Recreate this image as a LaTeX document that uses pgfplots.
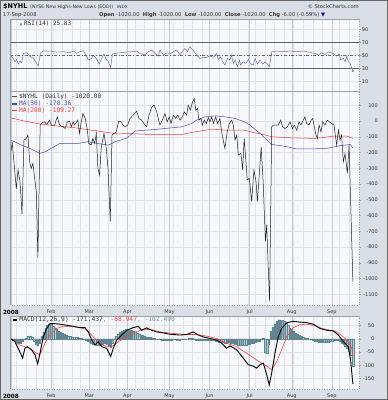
\documentclass[border=0pt]{standalone}
\usepackage{pgfplots}
\pgfplotsset{compat=1.18}
\usepackage{fontspec}
\setmainfont{DejaVu Sans}
\newfontfamily\mono{DejaVu Sans Mono}
\definecolor{framebg}{HTML}{DADFE7}
\definecolor{panelbg}{HTML}{F7F8FB}
\definecolor{gridw}{HTML}{E0E3E9}
\definecolor{gridm}{HTML}{C6CBD3}
\definecolor{bordercol}{HTML}{9A9FA8}
\definecolor{lbl}{HTML}{333333}
\definecolor{rsiline}{HTML}{5B669C}
\definecolor{ma50}{HTML}{4A4AAE}
\definecolor{ma200}{HTML}{F03C3C}
\definecolor{sig}{HTML}{F04545}
\definecolor{histfill}{HTML}{94B3BE}
\definecolor{histdraw}{HTML}{628592}
\definecolor{tealtxt}{HTML}{6F9A9A}
\pgfplotsset{panel/.style={
  scale only axis, width=349pt, xmin=-0.5, xmax=182.2,
  axis background/.style={fill=panelbg},
  axis line style={draw=none},
  clip mode=individual,
  xtick={3,8,13,17,22,27,32,36,46,51,55,65,70,75,80,85,90,95,100,109,114,119,124,128,133,138,143,148,153,158,163,172,177},
  xticklabels={},
  xtick style={draw=none},
  xmajorgrids, ymajorgrids,
  major grid style={draw=gridw, line width=0.4pt},
  extra x ticks={0,21,41,61,83,104,125,147,168},
  extra x tick style={grid=major, major grid style={draw=gridm, line width=0.5pt}, xtick style={draw=none}},
  xticklabel style={font=\fontsize{5}{6}\selectfont, text=lbl, inner sep=0pt, yshift=-3.5pt},
  ytick pos=right, tick align=outside, major tick length=1.5pt,
  ytick style={draw=bordercol, line width=0.4pt},
  yticklabel style={anchor=east, inner sep=0pt, font=\fontsize{5}{6}\selectfont, text=lbl},
}}
\begin{document}
\begin{tikzpicture}[x=1pt,y=1pt]
\fill[framebg] (0pt,0pt) rectangle (388pt,400pt);
\draw[gray!80!black, line width=0.6pt] (0.3pt,0.3pt) rectangle (387.7pt,399.7pt);
\coordinate (rsiTL) at (10pt,381pt);
\coordinate (mainTL) at (10pt,308.3pt);
\coordinate (macdTL) at (10pt,84pt);
% header
\node[anchor=base west, inner sep=0, font=\fontsize{6.5}{7}\selectfont\bfseries] at (3pt,391.7pt) {\$NYHL};
\node[anchor=base west, inner sep=0, font=\fontsize{4.7}{5}\selectfont, text=lbl] at (30pt,391.9pt) {(NYSE New Highs-New Lows (EOD))};
\node[anchor=base west, inner sep=0, font=\fontsize{4.2}{5}\selectfont, text=lbl] at (117pt,391.9pt) {INDX};
\node[anchor=base east, inner sep=0, font=\fontsize{5.2}{6}\selectfont, text=lbl] at (359pt,391.9pt) {© StockCharts.com};
\node[anchor=base west, inner sep=0, font=\fontsize{5.2}{6}\selectfont, text=lbl] at (3pt,383.3pt) {17-Sep-2008};
\node[anchor=base west, inner sep=0, font=\fontsize{5.2}{6}\selectfont, text=lbl] at (99pt,383.3pt) {\textbf{Open} -1020.00\ \ \textbf{High} -1020.00\ \ \textbf{Low} -1020.00\ \ \textbf{Close} -1020.00\ \ \textbf{Chg} -6.00 (-0.59\%) \textcolor{blue!70!black}{▼}};
% RSI panel
\begin{axis}[panel, at={(rsiTL)}, anchor=north west, height=72.7pt,
  ymin=-6, ymax=106, ytick={10,30,50,70,90},
  yticklabels={10,30,50,70,90}, yticklabel style={xshift=8pt},
  extra x tick labels={}]
\addplot[draw=gray!75!black, line width=0.5pt] coordinates {(-0.5,30)(182.2,30)};
\addplot[draw=gray!75!black, line width=0.5pt] coordinates {(-0.5,70)(182.2,70)};
\addplot[draw=gray!80!black, line width=0.4pt, dash dot] coordinates {(-0.5,50)(182.2,50)};
\addplot[rsiline, line width=0.45pt] coordinates {(0,48.9)(1.2,45.3)(2.1,40.2)(3,43.8)(3.8,36.6)(4.7,41.7)(5.6,38.7)(6.5,53)(8.2,54)(9.9,48.9)(11.7,45.3)(13.4,37.6)(14.3,33.5)(15.5,54)(16.9,56.6)(20.4,56.6)(23.9,55.1)(27.4,55.6)(30.9,54)(32.6,56.6)(34.4,53)(36.1,55.6)(37.9,57.1)(39.3,50.5)(40.5,42.8)(42.2,45.3)(43.1,50.5)(44.9,43.8)(46.2,36.6)(47.5,45.3)(48.7,52)(49.7,45.3)(50.9,40.2)(52.2,31.5)(53.1,52)(54.5,53)(57.1,54)(60.6,55.1)(63.2,55.6)(65.8,56.6)(67.5,53)(70.2,50.5)(71.9,55.6)(73.6,58.2)(75.4,53)(77.1,48.9)(78,58.2)(79.8,50.5)(81.5,54)(83.2,52)(85,55.6)(86.7,58.2)(88.5,51)(89.9,56.6)(91.1,60.7)(92.3,55.6)(93.7,63.3)(95.5,57.1)(97.2,50.5)(98.9,45.3)(100.7,46.9)(102.4,46.9)(104.2,48.9)(105.9,46.9)(107.7,53)(108.5,43.8)(109.8,47.9)(110.8,40.2)(112,35.1)(113.4,45.3)(114.7,42.8)(115.5,50.5)(116.4,37.6)(117.3,42.8)(118.5,32.5)(119.6,42.8)(120.2,35.1)(121.6,40.2)(123,37.6)(124.3,43.8)(125.5,36.6)(126.9,35.1)(127.8,45.3)(129,36.6)(130.4,42.8)(131.8,36.6)(133,40.2)(133.9,37.6)(135.3,32.5)(136.5,55.6)(139.1,56.6)(142.6,55.6)(146.1,56.6)(149.6,55.6)(153.1,56.6)(156.5,54.6)(159.2,53)(160.9,50.5)(162.7,54)(164.4,51.5)(166.2,55.1)(168.7,53)(170.5,48.9)(171.9,52)(172.6,42.8)(174,45.3)(174.9,40.2)(175.8,48.9)(176.6,40.2)(177.5,37.6)(179,25.8)};
\addplot[only marks, mark=*, mark size=0.9pt, color=tealtxt] coordinates {(179,25.8)};
\draw[bordercol, line width=0.5pt] (rel axis cs:0,0) -- (rel axis cs:0,1) -- (rel axis cs:1,1);
\draw[bordercol, line width=0.5pt] (rel axis cs:0,0) -- (rel axis cs:1,0);
\draw[bordercol, line width=0.5pt, dotted] (rel axis cs:1,0) -- (rel axis cs:1,1);
\end{axis}
% main panel
\begin{axis}[panel, at={(mainTL)}, anchor=north west, height=213.3pt,
  ymin=-1168, ymax=187,
  ytick={-1100,-1000,-900,-800,-700,-600,-500,-400,-300,-200,-100,0,100},
  yticklabels={-1100,-1000,-900,-800,-700,-600,-500,-400,-300,-200,-100,0,100},
  yticklabel style={xshift=17.5pt},
  extra x tick labels={{\color{black}\fontsize{5.7}{6}\selectfont\bfseries 2008},Feb,Mar,Apr,May,Jun,Jul,Aug,Sep}]
\addplot[ma200, line width=0.5pt] coordinates {(0,21)(7.2,0)(15.9,-19)(24.6,-32)(33.4,-42)(42,-57)(50.8,-72)(56,-82)(59.7,-78)(73.7,-85)(89.4,-85)(94.6,-72)(105.1,-51)(112,-57)(122.1,-57)(126.9,-72)(132.1,-85)(136.5,-99)(146.1,-106)(160.1,-110)(168.7,-95)(175.8,-95)(179,-110)};
\addplot[ma50, line width=0.5pt] coordinates {(0,-120)(5.4,-152)(10.6,-177)(15,-205)(17.8,-195)(21.1,-173)(25.5,-142)(35.1,-142)(40.3,-131)(45.5,-142)(50.8,-152)(52.4,-145)(54.3,-131)(57.7,-120)(60.9,-106)(64.9,-63)(77.1,-51)(89.4,-36)(94.6,-15)(97.2,6)(101.6,27)(106.8,34)(112,27)(117.3,17)(122.1,-4)(125.1,-25)(130.4,-78)(136.5,-148)(142.6,-158)(149.6,-177)(156.5,-177)(165.3,-173)(172.3,-156)(177.5,-148)(179,-170)};
\addplot[black!88, line width=0.5pt] coordinates {(0,-190)(0.7,-140)(2.8,-430)(3.7,-310)(4.7,-380)(5.8,-592)(6.8,-120)(8,-110)(8.9,-89)(9.8,-258)(10.6,-300)(11.5,-268)(12.4,-363)(13.3,-448)(14.1,-870)(15.3,-25)(16.3,-10)(17.6,-4)(18.8,-21)(20.2,6)(21.1,-25)(22.9,-25)(24.2,27)(25.5,-25)(27.2,-36)(28.4,-47)(29.5,-4)(30.7,0)(31.6,-36)(32.5,-4)(33.3,-25)(35,6)(35.9,-78)(36.8,-4)(37.7,48)(38.9,17)(40,-57)(40.7,-142)(42,-152)(42.9,-110)(43.8,-142)(44.7,-78)(45.5,-300)(46.4,-342)(47.3,-163)(48.2,-110)(48.7,-78)(49.9,-173)(50.8,-300)(52,-637)(52.9,-89)(53.9,-78)(55.1,-68)(56.4,0)(57.7,-4)(58.6,-25)(59.8,-36)(61.1,-25)(62.3,17)(64,38)(65.8,63)(67,17)(68.4,6)(69.6,-15)(71,-36)(72.3,38)(73.7,90)(75,101)(76.3,59)(77.1,17)(78,-25)(79.2,6)(80.6,48)(81.8,-4)(82.9,27)(83.8,-15)(85,38)(86.2,17)(87.3,38)(88.5,6)(89.7,27)(90.7,59)(92,38)(92.8,101)(93.9,70)(95.1,122)(96,143)(96.7,70)(97.7,80)(98.4,6)(99.5,17)(100.2,-25)(101.2,6)(102.3,-15)(103.3,21)(104.2,-4)(105.1,27)(106,-15)(107.2,27)(108.2,-15)(109.4,17)(110.3,-68)(112,-173)(113.2,-68)(114.3,-15)(115.6,6)(116.4,-25)(117.3,-120)(118.2,-89)(119,-215)(120.4,-205)(121.3,-310)(122.1,-110)(122.9,-238)(123.7,-374)(124.8,-363)(126,-511)(127.2,-310)(128.3,-385)(129,-511)(130,-342)(131,-163)(132.1,-405)(133.2,-764)(133.9,-658)(134.7,-933)(135.4,-1144)(136.5,-36)(137.3,-25)(138.6,-25)(140,-25)(141.2,6)(142.2,-36)(143.5,-47)(144.7,-36)(146.1,-4)(147.3,-47)(148.3,-25)(149.6,-57)(150.8,-4)(151.8,-25)(153,6)(153.9,27)(154.8,-15)(156,-25)(157.1,6)(158,17)(158.6,-25)(159.7,-89)(160.4,-110)(161.3,-25)(162.3,-68)(163.2,-4)(164.4,-25)(165.6,6)(166.6,-4)(167.9,-15)(169.1,-25)(170.5,-152)(171.4,-57)(172.3,-120)(173.1,-89)(174,-258)(174.9,-205)(176.1,-331)(177,-152)(179,-1020)};
\draw[bordercol, line width=0.5pt] (rel axis cs:0,0) -- (rel axis cs:0,1) -- (rel axis cs:1,1);
\draw[bordercol, line width=0.5pt, dotted] (rel axis cs:1,1) -- (rel axis cs:1,0) -- (rel axis cs:0,0);
\end{axis}
% MACD panel
\begin{axis}[panel, at={(macdTL)}, anchor=north west, height=73pt,
  ymin=-190, ymax=86,
  ytick={-150,-100,-50,0,50},
  yticklabels={-150,-100,-50,0,50},
  yticklabel style={xshift=14pt},
  extra x tick labels={{\color{black}\fontsize{5.7}{6}\selectfont\bfseries 2008},Feb,Mar,Apr,May,Jun,Jul,Aug,Sep}]
\addplot[ybar, bar width=1.4pt, fill=histfill, draw=histdraw, line width=0.15pt] coordinates {(0,-3)(1,-5)(2,-8)(3,-12)(4,-15)(5,-17)(6,-8)(7,-2)(8,4)(9,9)(10,11)(11,8)(12,-10)(13,-20)(14,-25)(15,-15)(16,10)(17,25)(18,40)(19,50)(20,55)(21,55)(22,48)(23,42)(24,36)(25,30)(26,25)(27,20)(28,16)(29,13)(30,11)(31,9)(32,8)(33,7)(34,6)(35,5)(36,3)(37,1)(38,-2)(39,-6)(40,-10)(41,-13)(42,-16)(43,-20)(44,-22)(45,-24)(46,-25)(47,-23)(48,-22)(49,-18)(50,-20)(51,-28)(52,-32)(53,-15)(54,-3)(55,10)(56,18)(57,25)(58,30)(59,33)(60,35)(61,36)(62,34)(63,32)(64,28)(65,24)(66,20)(67,16)(68,14)(69,12)(70,10)(71,8)(72,6)(73,5)(74,4)(75,2)(76,0)(77,-2)(78,-3)(79,-4)(80,-4)(81,-5)(82,-5)(83,-4)(84,-4)(85,-3)(86,-3)(87,-4)(88,-4)(89,-3)(90,-2)(91,-1)(92,0)(93,2)(94,4)(95,3)(96,-2)(97,-4)(98,-5)(99,-5)(100,-5)(101,-5)(102,-6)(103,-6)(104,-5)(105,-4)(106,-5)(107,-7)(108,-9)(109,-11)(110,-12)(111,-14)(112,-15)(113,-15)(114,-14)(115,-16)(116,-18)(117,-20)(118,-22)(119,-24)(120,-25)(121,-25)(122,-24)(123,-25)(124,-22)(125,-20)(126,-18)(127,-15)(128,-12)(129,-10)(130,-8)(131,-3)(132,2)(133,-50)(134,-55)(135,-20)(136,30)(137,45)(138,55)(139,68)(140,72)(141,72)(142,70)(143,65)(144,58)(145,50)(146,42)(147,35)(148,28)(149,22)(150,16)(151,12)(152,9)(153,6)(154,4)(155,2)(156,0)(157,-2)(158,-5)(159,-8)(160,-10)(161,-12)(162,-14)(163,-14)(164,-14)(165,-13)(166,-12)(167,-10)(168,-8)(169,-5)(170,-5)(171,-6)(172,-10)(173,-15)(174,-20)(175,-28)(176,-35)(177,-45)(178,-60)(179,-102)};
\addplot[sig, line width=0.6pt] coordinates {(0,0)(4.7,-24)(9.9,-36)(13.5,-55)(15.2,-61)(17.8,-17)(20.4,14)(23.9,39)(27.4,47)(30.9,47)(36.1,42)(39.6,35)(43.1,7)(46.6,-17)(50.1,-30)(52.7,-30)(55.3,-17)(58.8,1)(63.2,20)(67.5,32)(72.8,36)(78,26)(85,20)(92,16)(97.2,16)(102.5,10)(107.7,1)(112.9,-17)(118.2,-30)(123.4,-55)(128.6,-80)(133.9,-104)(136.5,-117)(139.1,-86)(141.7,-42)(144.3,7)(147.8,42)(151.3,53)(154.8,55)(159,50)(162.7,39)(167.1,32)(170.5,26)(174,7)(176.6,-11)(178.4,-36)(179,-67)};
\addplot[black, line width=0.9pt] coordinates {(0,0)(2.1,-11)(3.8,-36)(6.1,-73)(7.3,-36)(8.5,-30)(10.8,-42)(12.6,-61)(14,-95)(15.2,-55)(16.9,7)(18.7,39)(20.4,57)(23,57)(25.7,55)(29.2,51)(32.6,47)(36.1,42)(38.7,42)(40.5,26)(42.3,-5)(44,-24)(45.7,-11)(47.5,-30)(50.1,-36)(52.2,-67)(53.6,-36)(55.3,-5)(58,14)(60.6,32)(64,42)(66.6,47)(68.4,32)(71,41)(73.7,32)(76.3,26)(79.7,22)(83.2,17)(88.5,14)(92,16)(95.4,26)(98.1,14)(100.7,7)(104.2,1)(107.7,-5)(110.3,-17)(112.9,-36)(114.7,-27)(118.2,-42)(121.6,-73)(124.2,-98)(126.9,-104)(128.6,-111)(130.4,-98)(132.1,-92)(133.9,-136)(135.2,-175)(136.5,-129)(138.2,-55)(139.9,7)(141.7,39)(144.3,60)(147.8,66)(151.3,63)(154.8,61)(158.3,55)(161.8,39)(165.3,32)(168.7,30)(171.4,14)(174,-11)(176.6,-30)(177.8,-80)(179,-171)};
\draw[bordercol, line width=0.5pt] (rel axis cs:0,0) -- (rel axis cs:0,1) -- (rel axis cs:1,1);
\draw[bordercol, line width=0.5pt, dotted] (rel axis cs:1,1) -- (rel axis cs:1,0) -- (rel axis cs:0,0);
\end{axis}
% legends
\node[anchor=base west, inner sep=0, font=\fontsize{4}{4}\selectfont, text=tealtxt] at (19.5pt,374.5pt) {▲};
\node[anchor=base west, inner sep=0, font=\mono\fontsize{6}{6}\selectfont, text=lbl] at (24pt,374.3pt) {RSI(14) 25.83};
\draw[gray!60!black, line width=1.3pt] (11.7pt,303.3pt) -- (16.7pt,303.3pt);
\node[anchor=base west, inner sep=0, font=\mono\fontsize{6.2}{6}\selectfont, text=lbl] at (19pt,301.3pt) {\$NYHL (Daily) -1020.00};
\draw[ma50, line width=1.3pt] (11.7pt,296pt) -- (16.7pt,296pt);
\node[anchor=base west, inner sep=0, font=\mono\fontsize{6.2}{6}\selectfont, text=ma50] at (19pt,294pt) {MA(50) -170.36};
\draw[ma200, line width=1.3pt] (11.7pt,289.3pt) -- (16.7pt,289.3pt);
\node[anchor=base west, inner sep=0, font=\mono\fontsize{6.2}{6}\selectfont, text=ma200] at (19pt,287.3pt) {MA(200) -109.27};
\draw[black, line width=1.3pt] (12.7pt,80pt) -- (16.7pt,80pt);
\node[anchor=base west, inner sep=0, font=\mono\fontsize{6.3}{6}\selectfont, text=lbl] at (19.3pt,78pt) {MACD(12,26,9) -171.437\textcolor{sig}{, -68.947}\textcolor{tealtxt}{, -102.490}};
\end{tikzpicture}
\end{document}
